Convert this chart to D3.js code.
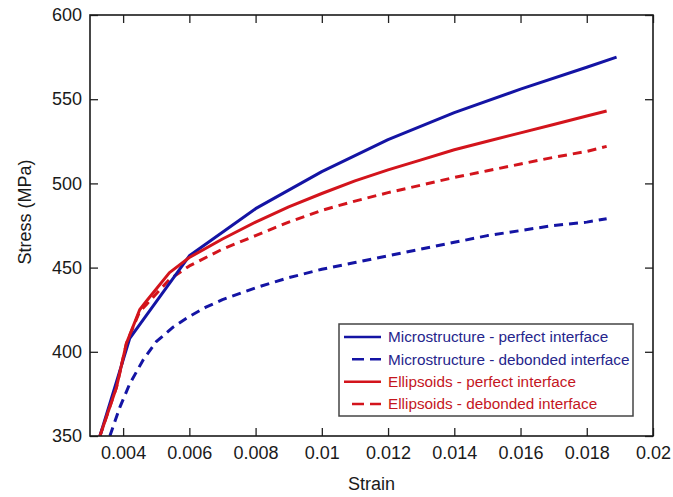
<!DOCTYPE html>
<html>
<head>
<meta charset="utf-8">
<script src="https://cdn.jsdelivr.net/npm/d3@7"></script>
<style>
  body { margin: 0; background: #fff; }
  svg text { font-family: "Liberation Sans", Arial, sans-serif; }
</style>
</head>
<body>
<svg width="673" height="497"></svg>
<script>
// data
var xTicks = [0.004, 0.006, 0.008, 0.01, 0.012, 0.014, 0.016, 0.018, 0.02];
var yTicks = [350, 400, 450, 500, 550, 600];

var microPerfectStrain = [0.0033, 0.0042, 0.0060, 0.0080, 0.0100, 0.0120, 0.0140, 0.0160, 0.0180, 0.0189];
var microPerfectStress = [350, 408, 457, 485, 507, 526, 542, 556, 569, 575];

var microDebondStrain = [0.0036, 0.0039, 0.0042, 0.0046, 0.0050, 0.0055, 0.0060, 0.0065, 0.0070, 0.0080, 0.0090, 0.0100, 0.0110, 0.0120, 0.0130, 0.0140, 0.0150, 0.0160, 0.0170, 0.0180, 0.0186];
var microDebondStress = [350, 367, 381, 395, 406, 414.5, 421, 426.5, 431, 438, 444, 449, 453, 457, 461, 465, 469, 472, 475, 477, 479];

var ellPerfectStrain = [0.0033, 0.0038, 0.0041, 0.0045, 0.0047, 0.0054, 0.0060, 0.0070, 0.0080, 0.0090, 0.0100, 0.0110, 0.0120, 0.0130, 0.0140, 0.0150, 0.0160, 0.0170, 0.0180, 0.0186];
var ellPerfectStress = [350, 379, 405, 425, 430, 447, 456, 467, 477, 486, 494, 501.5, 508, 514, 520, 525, 530, 535, 540, 543];

var ellDebondStrain = [0.0033, 0.0038, 0.0041, 0.0045, 0.0047, 0.0054, 0.0060, 0.0070, 0.0080, 0.0090, 0.0100, 0.0110, 0.0120, 0.0130, 0.0140, 0.0150, 0.0160, 0.0170, 0.0180, 0.0186];
var ellDebondStress = [350, 379, 405, 424, 428, 443, 451, 461, 469, 477, 484, 489.5, 494.5, 499, 503.5, 507.5, 511.5, 515.5, 519, 522];

var seriesNames = ["Microstructure - perfect interface", "Microstructure - debonded interface",
                   "Ellipsoids - perfect interface", "Ellipsoids - debonded interface"];

var blue = "#1414a4", red = "#d3141c";
var blueText = "#25258c", redText = "#c4161e";

var svg = d3.select("svg");

// plot box (don't call it "top", that's window.top)
var pLeft = 90, pRight = 653, pTop = 15, pBottom = 436;

var x = d3.scaleLinear().domain([0.003, 0.02]).range([pLeft, pRight]);
var y = d3.scaleLinear().domain([350, 600]).range([pBottom, pTop]);

var series = [
  { strain: microPerfectStrain, stress: microPerfectStress, color: blue, text: blueText, dash: null, ldash: null },
  { strain: microDebondStrain, stress: microDebondStress, color: blue, text: blueText, dash: "9,6", ldash: "12,6" },
  { strain: ellPerfectStrain, stress: ellPerfectStress, color: red, text: redText, dash: null, ldash: null },
  { strain: ellDebondStrain, stress: ellDebondStress, color: red, text: redText, dash: "9,6", ldash: "12,6" }
];

// clip
svg.append("clipPath").attr("id", "clip")
  .append("rect").attr("x", pLeft).attr("y", pTop).attr("width", pRight - pLeft).attr("height", pBottom - pTop);

var line = d3.line()
  .x(function(d) { return x(d[0]); })
  .y(function(d) { return y(d[1]); })
  .curve(d3.curveLinear);

var g = svg.append("g").attr("clip-path", "url(#clip)");

// draw in order so red sits on top of blue like in the picture
[1, 3, 0, 2].forEach(function(k) {
  var s = series[k];
  g.append("path")
    .datum(d3.zip(s.strain, s.stress))
    .attr("d", line)
    .attr("fill", "none")
    .attr("stroke", s.color)
    .attr("stroke-width", 3)
    .attr("stroke-dasharray", s.dash)
    .attr("stroke-linejoin", "round");
});

// axes, ticks inside on all four sides
var fmt = function(d) { return d3.format("")(+d.toFixed(3)); };

var xAxisB = d3.axisBottom(x).tickValues(xTicks).tickSizeInner(-8).tickSizeOuter(0).tickPadding(10).tickFormat(fmt);
var xAxisT = d3.axisTop(x).tickValues(xTicks).tickSizeInner(-8).tickSizeOuter(0).tickFormat("");
var yAxisL = d3.axisLeft(y).tickValues(yTicks).tickSizeInner(-8).tickSizeOuter(0).tickPadding(8);
var yAxisR = d3.axisRight(y).tickValues(yTicks).tickSizeInner(-8).tickSizeOuter(0).tickFormat("");

function styleAxis(sel) {
  sel.select(".domain").remove();
  sel.selectAll(".tick line").attr("stroke", "#222").attr("stroke-width", 1.3);
  sel.selectAll("text").attr("fill", "#1a1a1a").style("font-size", "18px");
}

svg.append("g").attr("transform", "translate(0," + pBottom + ")").call(xAxisB).call(styleAxis);
svg.append("g").attr("transform", "translate(0," + pTop + ")").call(xAxisT).call(styleAxis);
svg.append("g").attr("transform", "translate(" + pLeft + ",0)").call(yAxisL).call(styleAxis);
svg.append("g").attr("transform", "translate(" + pRight + ",0)").call(yAxisR).call(styleAxis);

svg.append("rect")
  .attr("x", pLeft).attr("y", pTop)
  .attr("width", pRight - pLeft).attr("height", pBottom - pTop)
  .attr("fill", "none").attr("stroke", "#1a1a1a").attr("stroke-width", 1.6);

// axis titles
svg.append("text")
  .attr("x", (pLeft + pRight) / 2).attr("y", 490)
  .attr("text-anchor", "middle")
  .attr("fill", "#1a1a1a")
  .style("font-size", "18px")
  .text("Strain");

svg.append("text")
  .attr("transform", "translate(31,212) rotate(-90)")
  .attr("text-anchor", "middle")
  .attr("fill", "#1a1a1a")
  .style("font-size", "18px")
  .text("Stress (MPa)");

// legend
var lg = svg.append("g");
lg.append("rect")
  .attr("x", 339).attr("y", 324).attr("width", 294).attr("height", 92)
  .attr("fill", "#fff").attr("stroke", "#444").attr("stroke-width", 1.5);

var rowY = d3.scalePoint().domain(d3.range(4)).range([337, 404]);

series.forEach(function(s, i) {
  var yy = rowY(i);
  lg.append("line")
    .attr("x1", s.ldash ? 352 : 344).attr("x2", 381)
    .attr("y1", yy).attr("y2", yy)
    .attr("stroke", s.color).attr("stroke-width", 2.5)
    .attr("stroke-dasharray", s.ldash);
  lg.append("text")
    .attr("x", 388).attr("y", yy)
    .attr("dy", "0.35em")
    .attr("fill", s.text)
    .style("font-size", "15.3px")
    .text(seriesNames[i]);
});
</script>
</body>
</html>
